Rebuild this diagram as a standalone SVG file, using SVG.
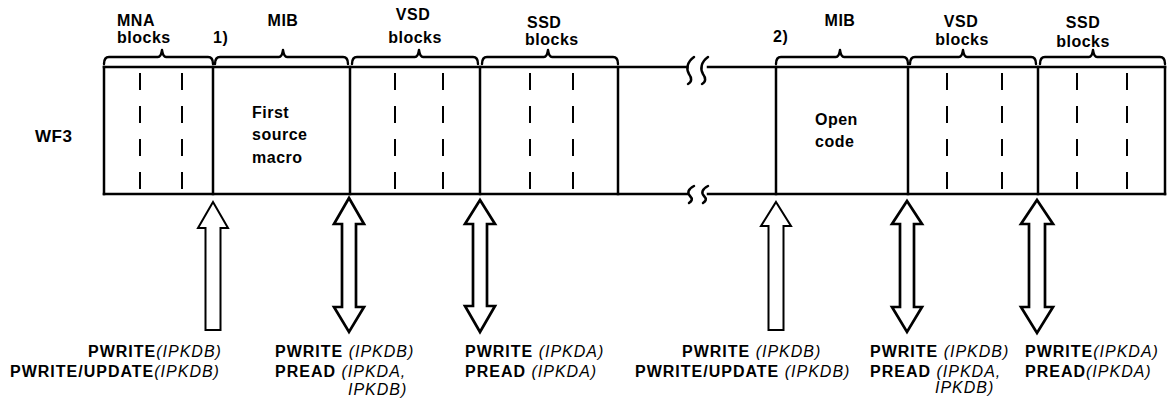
<svg xmlns="http://www.w3.org/2000/svg" width="1175" height="404" viewBox="0 0 1175 404">
<style>
  .frame { fill: none; stroke: #000; stroke-width: 2.5; stroke-linecap: square; }
  .dash { fill: none; stroke: #000; stroke-width: 2; stroke-dasharray: 17 16; }
  .brace { fill: none; stroke: #000; stroke-width: 2.4; stroke-linejoin: round; stroke-linecap: round; }
  .brk { fill: none; stroke: #000; stroke-width: 2.5; stroke-linecap: round; }
  .lbl { font-family: "Liberation Sans", Arial, sans-serif; font-size: 16px; font-weight: bold; fill: #000; letter-spacing: 0.5px; }
  .big { font-size: 17px; }
  .mid { text-anchor: middle; }
  .op { font-family: "Liberation Sans", Arial, sans-serif; font-size: 16px; font-weight: bold; fill: #000; letter-spacing: 1px; }
  .it { font-style: italic; font-weight: normal; }
  .arr1 { fill: #fff; stroke: #000; stroke-width: 2; stroke-linejoin: miter; }
  .arr2 { fill: #fff; stroke: #000; stroke-width: 2.7; stroke-linejoin: miter; }
</style>

<!-- outer frame with break marks -->
<g id="frame">
  <line class="frame" x1="104" y1="67" x2="687" y2="67"/>
  <line class="frame" x1="708" y1="67" x2="1165" y2="67"/>
  <line class="frame" x1="104" y1="194" x2="687" y2="194"/>
  <line class="frame" x1="708" y1="194" x2="1165" y2="194"/>
  <path class="brk" d="M694 57 C687 62 686 69 689 74 C692 78 692 82 688 84"/>
  <path class="brk" d="M708 57 C701 62 700 69 703 74 C706 78 706 82 702 84"/>
  <path class="brk" d="M694 186 C688 189 687 193 690 196 C693 199 692 201 689 203"/>
  <path class="brk" d="M708 186 C702 189 701 193 704 196 C707 199 706 201 703 203"/>
</g>

<text class="lbl big" x="35" y="142">WF3</text>

<g id="mna">
  <line class="frame" x1="104" y1="67" x2="104" y2="194"/>
  <line class="dash" x1="140" y1="73" x2="140" y2="190"/>
  <line class="dash" x1="182" y1="73" x2="182" y2="190"/>
  <path class="brace" d="M104 64 Q104 57 109 57 L158 57 Q161 57 162 50 Q163 57 166 57 L208 57 Q213 57 213 64"/>
  <text class="lbl" x="117" y="26">MNA</text>
  <text class="lbl" x="117" y="43">blocks</text>
</g>

<g id="mib1">
  <line class="frame" x1="213" y1="67" x2="213" y2="194"/>
  <path class="brace" d="M215 64 Q215 57 220 57 L279 57 Q282 57 283 50 Q284 57 287 57 L343 57 Q348 57 348 64"/>
  <text class="lbl" x="213" y="43">1)</text>
  <text class="lbl mid" x="283" y="26">MIB</text>
  <text class="lbl" x="252" y="118">First</text>
  <text class="lbl" x="252" y="140">source</text>
  <text class="lbl" x="252" y="163">macro</text>
</g>

<g id="vsd1">
  <line class="frame" x1="350" y1="67" x2="350" y2="194"/>
  <line class="dash" x1="395" y1="73" x2="395" y2="190"/>
  <line class="dash" x1="443" y1="73" x2="443" y2="190"/>
  <path class="brace" d="M352 64 Q352 57 357 57 L415 57 Q418 57 419 50 Q420 57 423 57 L473 57 Q478 57 478 64"/>
  <text class="lbl mid" x="413" y="20">VSD</text>
  <text class="lbl mid" x="415" y="43">blocks</text>
</g>

<g id="ssd1">
  <line class="frame" x1="480" y1="67" x2="480" y2="194"/>
  <line class="frame" x1="618" y1="67" x2="618" y2="194"/>
  <line class="dash" x1="530" y1="73" x2="530" y2="190"/>
  <line class="dash" x1="573" y1="73" x2="573" y2="190"/>
  <path class="brace" d="M482 64 Q482 57 487 57 L544 57 Q547 57 548 50 Q549 57 552 57 L613 57 Q618 57 618 64"/>
  <text class="lbl" x="527" y="28">SSD</text>
  <text class="lbl" x="525" y="45">blocks</text>
</g>

<g id="mib2">
  <line class="frame" x1="776" y1="67" x2="776" y2="194"/>
  <path class="brace" d="M776 64 Q776 57 781 57 L836 57 Q839 57 840 50 Q841 57 844 57 L903 57 Q908 57 908 64"/>
  <text class="lbl" x="773" y="42">2)</text>
  <text class="lbl mid" x="840" y="26">MIB</text>
  <text class="lbl" x="815" y="125">Open</text>
  <text class="lbl" x="815" y="147">code</text>
</g>

<g id="vsd2">
  <line class="frame" x1="908" y1="67" x2="908" y2="194"/>
  <line class="dash" x1="947" y1="73" x2="947" y2="190"/>
  <line class="dash" x1="1002" y1="73" x2="1002" y2="190"/>
  <path class="brace" d="M910 64 Q910 57 915 57 L959 57 Q962 57 963 50 Q964 57 967 57 L1031 57 Q1036 57 1036 64"/>
  <text class="lbl mid" x="961" y="27">VSD</text>
  <text class="lbl mid" x="962" y="45">blocks</text>
</g>

<g id="ssd2">
  <line class="frame" x1="1038" y1="67" x2="1038" y2="194"/>
  <line class="frame" x1="1165" y1="67" x2="1165" y2="194"/>
  <line class="dash" x1="1077" y1="73" x2="1077" y2="190"/>
  <line class="dash" x1="1127" y1="73" x2="1127" y2="190"/>
  <path class="brace" d="M1040 64 Q1040 57 1045 57 L1089 57 Q1092 57 1093 50 Q1094 57 1097 57 L1160 57 Q1165 57 1165 64"/>
  <text class="lbl mid" x="1083" y="28">SSD</text>
  <text class="lbl mid" x="1083" y="47">blocks</text>
</g>

<g id="connectors">
  <polygon class="arr1" points="213,202 228,228 220.5,228 220.5,330 205.5,330 205.5,228 198,228"/>
  <polygon class="arr2" points="349,198 364,224 356,224 356,307 364,307 349,332 334,307 342,307 342,224 334,224"/>
  <polygon class="arr2" points="480,200 495,224 487,224 487,306 495,306 480,332 465,306 473,306 473,224 465,224"/>
  <polygon class="arr1" points="776,202 791,226 783.5,226 783.5,330 768.5,330 768.5,226 761,226"/>
  <polygon class="arr2" points="907,201 922,224 914,224 914,307 922,307 907,332 892,307 900,307 900,224 892,224"/>
  <polygon class="arr2" points="1037,200 1053,224 1045,224 1045,307 1053,307 1037,333 1021,307 1029,307 1029,224 1021,224"/>
</g>

<g id="labels-bottom">
  <text class="op" x="88" y="357">PWRITE<tspan class="it">(IPKDB)</tspan></text>
  <text class="op" x="10" y="377">PWRITE/UPDATE<tspan class="it">(IPKDB)</tspan></text>

  <text class="op" x="275" y="357">PWRITE <tspan class="it">(IPKDB)</tspan></text>
  <text class="op" x="275" y="377">PREAD <tspan class="it">(IPKDA,</tspan></text>
  <text class="op it" x="348" y="395">IPKDB)</text>

  <text class="op" x="465" y="357">PWRITE <tspan class="it">(IPKDA)</tspan></text>
  <text class="op" x="465" y="377">PREAD <tspan class="it">(IPKDA)</tspan></text>

  <text class="op" x="682" y="357">PWRITE <tspan class="it">(IPKDB)</tspan></text>
  <text class="op" x="635" y="377">PWRITE/UPDATE <tspan class="it">(IPKDB)</tspan></text>

  <text class="op" x="870" y="357">PWRITE <tspan class="it">(IPKDB)</tspan></text>
  <text class="op" x="870" y="377">PREAD <tspan class="it">(IPKDA,</tspan></text>
  <text class="op it" x="935" y="393">IPKDB)</text>

  <text class="op" x="1025" y="357">PWRITE<tspan class="it">(IPKDA)</tspan></text>
  <text class="op" x="1025" y="377">PREAD<tspan class="it">(IPKDA)</tspan></text>
</g>
</svg>
